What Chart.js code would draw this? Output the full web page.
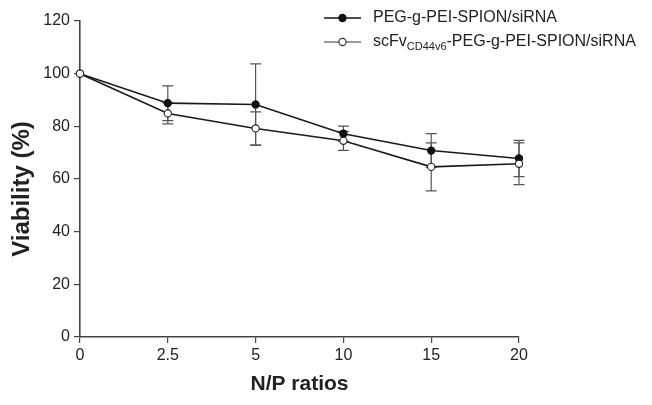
<!DOCTYPE html>
<html>
<head>
<meta charset="utf-8">
<script src="https://cdn.jsdelivr.net/npm/chart.js@4"></script>
<style>
  html, body { margin: 0; padding: 0; background: #fff; }
  #wrap { width: 652px; height: 405px; position: relative; }
</style>
</head>
<body>
<div id="wrap"><canvas id="c" width="652" height="405"></canvas></div>
<script>
// ---- data ----
const ratios = ['0', '2.5', '5', '10', '15', '20'];
const pegValues = [100, 88.8, 88.3, 77.2, 70.8, 67.8];
const pegErrors = [0, 6.6, 15.4, 2.9, 6.4, 6.9];
const scfvValues = [100, 84.9, 79.2, 74.5, 64.6, 65.8];
const scfvErrors = [0, 4.0, 6.3, 3.6, 9.1, 7.9];
const yTicks = [0, 20, 40, 60, 80, 100, 120];
const seriesNames = ['PEG-g-PEI-SPION/siRNA', 'scFv', 'CD44v6', '-PEG-g-PEI-SPION/siRNA'];
const xTitle = 'N/P ratios';
const yTitle = 'Viability (%)';

const FONT = '"Liberation Sans", Arial, Helvetica, sans-serif';
const INK = '#222';

const errorBars = {
  id: 'errorBars',
  beforeDatasetsDraw(chart) {
    const ctx = chart.ctx;
    const y = chart.scales.y;
    ctx.save();
    ctx.strokeStyle = '#555';
    ctx.lineWidth = 1.2;
    chart.data.datasets.forEach((ds, di) => {
      const meta = chart.getDatasetMeta(di);
      ds.errors.forEach((e, i) => {
        if (!e) return;
        const px = meta.data[i].x;
        const top = y.getPixelForValue(ds.data[i] + e);
        const bot = y.getPixelForValue(ds.data[i] - e);
        const cap = 5.5;
        ctx.beginPath();
        ctx.moveTo(px, top); ctx.lineTo(px, bot);
        ctx.moveTo(px - cap, top); ctx.lineTo(px + cap, top);
        ctx.moveTo(px - cap, bot); ctx.lineTo(px + cap, bot);
        ctx.stroke();
      });
    });
    ctx.restore();
  }
};

const customLegend = {
  id: 'customLegend',
  afterDraw(chart) {
    const ctx = chart.ctx;
    ctx.save();
    const rows = [
      { y: 18, line: '#111', fill: '#111', stroke: '#111' },
      { y: 42, line: '#777', fill: '#fff', stroke: '#333' }
    ];
    rows.forEach((r) => {
      ctx.strokeStyle = r.line;
      ctx.lineWidth = 1.5;
      ctx.beginPath();
      ctx.moveTo(324, r.y); ctx.lineTo(361, r.y);
      ctx.stroke();
      ctx.beginPath();
      ctx.arc(342.5, r.y, 3.6, 0, Math.PI * 2);
      ctx.fillStyle = r.fill; ctx.fill();
      ctx.strokeStyle = r.stroke; ctx.lineWidth = 1.1; ctx.stroke();
    });
    ctx.fillStyle = INK;
    ctx.textBaseline = 'middle';
    ctx.textAlign = 'left';
    ctx.font = '16px ' + FONT;
    ctx.fillText(seriesNames[0], 373, rows[0].y);
    let x = 373;
    ctx.fillText(seriesNames[1], x, rows[1].y);
    x += ctx.measureText(seriesNames[1]).width;
    ctx.font = '11px ' + FONT;
    ctx.fillText(seriesNames[2], x, rows[1].y + 5);
    x += ctx.measureText(seriesNames[2]).width;
    ctx.font = '16px ' + FONT;
    ctx.fillText(seriesNames[3], x, rows[1].y);
    ctx.restore();
  }
};

new Chart(document.getElementById('c'), {
  type: 'line',
  data: {
    labels: ratios,
    datasets: [
      {
        label: seriesNames[0],
        data: pegValues,
        errors: pegErrors,
        borderColor: '#1a1a1a',
        borderWidth: 1.6,
        pointRadius: 3.6,
        pointBorderWidth: 1.1,
        pointBackgroundColor: '#111',
        pointBorderColor: '#111',
        tension: 0,
        order: 1
      },
      {
        label: seriesNames[1] + seriesNames[2] + seriesNames[3],
        data: scfvValues,
        errors: scfvErrors,
        borderColor: '#1a1a1a',
        borderWidth: 1.6,
        pointRadius: 3.6,
        pointBorderWidth: 1.1,
        pointBackgroundColor: '#fff',
        pointBorderColor: '#222',
        tension: 0,
        order: 0
      }
    ]
  },
  options: {
    responsive: false,
    animation: false,
    devicePixelRatio: 1,
    layout: { padding: { top: 21, right: 133, left: 0, bottom: 0 } },
    plugins: {
      legend: { display: false },
      tooltip: { enabled: false }
    },
    scales: {
      x: {
        type: 'category',
        offset: false,
        grid: { display: true, drawOnChartArea: false, drawTicks: true, tickLength: 6, color: '#444', lineWidth: 1.2 },
        border: { display: true, color: '#444', width: 1.6 },
        ticks: { color: INK, font: { family: FONT, size: 16 }, padding: 3, maxRotation: 0, autoSkip: false },
        title: { display: true, text: xTitle, color: INK, font: { family: FONT, size: 21, weight: 'bold' }, padding: { top: 0, bottom: 8 } },
        afterFit: (s) => { s.height = 68; }
      },
      y: {
        min: 0,
        max: 120,
        afterBuildTicks: (s) => { s.ticks = yTicks.map(v => ({ value: v })); },
        grid: { display: true, drawOnChartArea: false, drawTicks: true, tickLength: 6, color: '#444', lineWidth: 1.2 },
        border: { display: true, color: '#444', width: 1.6 },
        ticks: { color: INK, font: { family: FONT, size: 16 }, padding: 4 },
        title: { display: true, text: yTitle + '   ', color: INK, font: { family: FONT, size: 24, weight: 'bold' }, padding: { top: 8, bottom: 0 } },
        afterFit: (s) => { s.width = 80; }
      }
    }
  },
  plugins: [errorBars, customLegend]
});
</script>
</body>
</html>
